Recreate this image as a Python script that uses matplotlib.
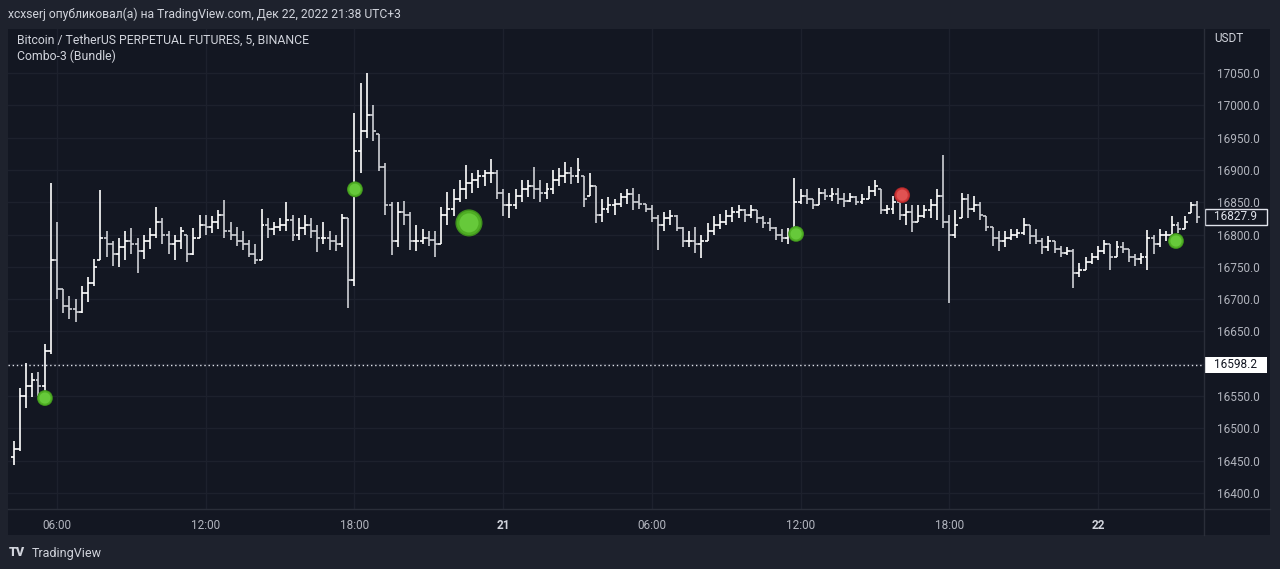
import numpy as np
import matplotlib
matplotlib.use("Agg")
import matplotlib.pyplot as plt
from matplotlib.patches import Rectangle
from matplotlib.lines import Line2D
from matplotlib.transforms import blended_transform_factory

plt.rcParams['font.family'] = ['Roboto', 'DejaVu Sans']

# 15-minute OHLC bars (hours since Dec 20 00:00)
first_time = 4.25
bar_step = 0.25
first_open = 16455

highs = [16480, 16562, 16601, 16585, 16588, 16630, 16880, 16820, 16715, 16705,
         16700, 16720, 16735, 16762, 16869, 16805, 16790, 16795, 16805, 16810,
         16795, 16800, 16810, 16842, 16825, 16805, 16800, 16812, 16800, 16810,
         16830, 16830, 16828, 16838, 16853, 16820, 16812, 16805, 16792, 16785,
         16840, 16825, 16820, 16825, 16850, 16830, 16825, 16830, 16825, 16815,
         16820, 16805, 16800, 16832, 16825, 16988, 17034, 17050, 17000, 16955,
         16910, 16850, 16850, 16852, 16835, 16815, 16808, 16805, 16805, 16843,
         16866, 16870, 16885, 16908, 16895, 16900, 16900, 16917, 16900, 16870,
         16865, 16870, 16885, 16885, 16905, 16885, 16880, 16900, 16903, 16912,
         16905, 16918, 16890, 16895, 16875, 16855, 16858, 16855, 16865, 16870,
         16872, 16862, 16848, 16845, 16830, 16835, 16838, 16830, 16812, 16805,
         16812, 16800, 16818, 16828, 16832, 16838, 16843, 16846, 16840, 16845,
         16838, 16828, 16825, 16812, 16808, 16810, 16887, 16870, 16870, 16855,
         16872, 16870, 16872, 16872, 16865, 16865, 16860, 16862, 16875, 16884,
         16870, 16845, 16860, 16852, 16848, 16845, 16845, 16845, 16855, 16870,
         16923, 16830, 16838, 16865, 16862, 16860, 16850, 16828, 16812, 16805,
         16805, 16808, 16808, 16826, 16815, 16808, 16795, 16798, 16790, 16782,
         16780, 16778, 16756, 16765, 16772, 16782, 16792, 16785, 16790, 16788,
         16778, 16770, 16772, 16807, 16800, 16808, 16805, 16828, 16820, 16828,
         16850, 16852]

lows = [16443, 16465, 16532, 16548, 16550, 16555, 16615, 16700, 16678, 16670,
        16665, 16678, 16695, 16720, 16760, 16765, 16752, 16750, 16760, 16770,
        16740, 16762, 16778, 16795, 16785, 16770, 16760, 16778, 16758, 16768,
        16795, 16800, 16802, 16808, 16795, 16792, 16782, 16776, 16765, 16755,
        16760, 16795, 16800, 16805, 16805, 16790, 16792, 16800, 16795, 16773,
        16785, 16776, 16775, 16780, 16686, 16720, 16895, 16950, 16945, 16898,
        16830, 16768, 16780, 16815, 16776, 16775, 16785, 16782, 16765, 16785,
        16815, 16828, 16850, 16855, 16865, 16872, 16875, 16880, 16855, 16828,
        16825, 16840, 16850, 16858, 16855, 16850, 16855, 16862, 16875, 16880,
        16878, 16880, 16842, 16860, 16818, 16820, 16833, 16830, 16843, 16848,
        16838, 16840, 16835, 16820, 16776, 16805, 16815, 16805, 16780, 16780,
        16772, 16764, 16790, 16800, 16808, 16815, 16820, 16825, 16820, 16825,
        16818, 16810, 16805, 16792, 16788, 16785, 16790, 16848, 16848, 16840,
        16845, 16853, 16852, 16848, 16843, 16850, 16845, 16848, 16855, 16860,
        16832, 16832, 16832, 16822, 16815, 16804, 16820, 16825, 16825, 16822,
        16810, 16694, 16795, 16825, 16825, 16835, 16822, 16805, 16782, 16775,
        16780, 16792, 16795, 16800, 16785, 16785, 16770, 16775, 16772, 16765,
        16768, 16718, 16735, 16745, 16755, 16760, 16770, 16745, 16765, 16772,
        16758, 16752, 16755, 16745, 16770, 16780, 16790, 16800, 16802, 16808,
        16833, 16818]

closes = [16468, 16550, 16565, 16575, 16565, 16620, 16760, 16715, 16690, 16685,
          16680, 16710, 16725, 16750, 16795, 16785, 16770, 16780, 16790, 16785,
          16775, 16790, 16800, 16820, 16800, 16785, 16790, 16805, 16770, 16795,
          16815, 16812, 16820, 16830, 16805, 16800, 16790, 16785, 16770, 16760,
          16815, 16808, 16812, 16815, 16822, 16800, 16810, 16815, 16805, 16795,
          16795, 16790, 16785, 16825, 16730, 16930, 16960, 16985, 16960, 16905,
          16845, 16790, 16835, 16830, 16790, 16790, 16795, 16792, 16785, 16830,
          16840, 16855, 16870, 16880, 16885, 16890, 16895, 16895, 16865, 16845,
          16845, 16860, 16870, 16875, 16870, 16865, 16870, 16885, 16890, 16895,
          16890, 16900, 16855, 16875, 16830, 16840, 16845, 16848, 16858, 16862,
          16850, 16848, 16840, 16825, 16815, 16825, 16828, 16810, 16790, 16790,
          16785, 16790, 16805, 16815, 16820, 16828, 16835, 16838, 16830, 16838,
          16825, 16818, 16810, 16800, 16795, 16800, 16850, 16860, 16855, 16845,
          16865, 16860, 16862, 16855, 16852, 16858, 16850, 16855, 16868, 16875,
          16838, 16840, 16850, 16830, 16835, 16820, 16828, 16838, 16845, 16860,
          16820, 16800, 16815, 16855, 16840, 16845, 16830, 16812, 16795, 16790,
          16795, 16800, 16802, 16815, 16798, 16790, 16780, 16790, 16778, 16772,
          16775, 16740, 16745, 16758, 16765, 16775, 16785, 16765, 16780, 16778,
          16765, 16762, 16765, 16795, 16785, 16800, 16800, 16815, 16808, 16820,
          16845, 16827.9]

# indicator signals
buy_times = [5.51, 18.02, 22.62, 35.82, 51.15]
buy_prices = [16547, 16870, 16818, 16801, 16790]
sell_times = [40.10]
sell_prices = [16861]

ref_price = 16598.2
last_price = 16827.9

tick_hours = [6, 12, 18, 24, 30, 36, 42, 48]
tick_labels = ['06:00', '12:00', '18:00', '21', '06:00', '12:00', '18:00', '22']
price_ticks = [16400, 16450, 16500, 16550, 16600, 16650, 16700, 16750,
               16800, 16850, 16900, 16950, 17000, 17050]

W, H = 1280, 569
BG = '#1e222d'
PANEL = '#131722'
TXT = '#b2b5be'
SEP = '#2a2e39'


def fx(px):
    return px / W


def fy(py):
    return 1 - py / H


fig = plt.figure(figsize=(12.8, 5.69), dpi=100, facecolor=BG)
fig.patches.append(Rectangle((fx(8), fy(535)), fx(1270) - fx(8), fy(29) - fy(535),
                             transform=fig.transFigure, facecolor=PANEL,
                             edgecolor='none', zorder=-5))

ax = fig.add_axes([fx(8), fy(509), fx(1204) - fx(8), fy(29) - fy(509)])
ax.set_facecolor(PANEL)
for s in ax.spines.values():
    s.set_visible(False)

t = first_time + bar_step * np.arange(len(closes))
h = np.array(highs, float)
l = np.array(lows, float)
c = np.array(closes, float)
o = np.clip(np.r_[first_open, c[:-1]], l, h)
cols = np.where(c >= o, '#ffffff', '#cfd1d6')

tw = 0.12
ax.vlines(t, l, h, colors=cols, lw=1.2, zorder=3)
ax.hlines(o, t - tw, t, colors=cols, lw=1.2, zorder=3)
ax.hlines(c, t, t + tw, colors=cols, lw=1.2, zorder=3)

ax.axhline(ref_price, color='#e0e3eb', lw=1, ls=(0, (1, 2)), zorder=2)

# glossy signal dots
buy_sizes = [130, 130, 380, 130, 130]
layers = [(1.0, '#3d8f1c', '#a8262a'), (0.8, '#4fae24', '#cc3434'),
          (0.5, '#66c93a', '#e05252')]
for scale, gcol, rcol in layers:
    ax.scatter(buy_times, buy_prices, s=[v * scale for v in buy_sizes],
               color=gcol, edgecolors='none', zorder=5)
    ax.scatter(sell_times, sell_prices, s=130 * scale,
               color=rcol, edgecolors='none', zorder=5)

ax.set_xlim(4.02, 52.28)
ax.set_ylim(16375.3, 17118.1)

ax.set_xticks(tick_hours)
ax.set_xticklabels(tick_labels)
ax.tick_params(axis='x', length=0, pad=7, labelsize=8.5, labelcolor=TXT)
for lab in ax.get_xticklabels():
    if ':' not in lab.get_text():
        lab.set_fontweight('bold')
        lab.set_color('#d1d4dc')

ax.yaxis.tick_right()
ax.set_yticks(price_ticks)
ax.set_yticklabels([f'{p:.1f}' for p in price_ticks])
ax.tick_params(axis='y', length=0, pad=9, labelsize=8.5, labelcolor=TXT)

ax.grid(color='#1d212d', lw=1)
ax.set_axisbelow(True)

# price labels on the scale
trans = blended_transform_factory(ax.transAxes, ax.transData)
bw = 62 / 1196
bh = 8 * 1.5475
ax.add_patch(Rectangle((1.0008, ref_price - bh), bw, 2 * bh, transform=trans,
                       facecolor='white', edgecolor='none', clip_on=False, zorder=6))
ax.text(1.0008 + bw / 2, ref_price, f'{ref_price:.1f}', transform=trans,
        ha='center', va='center', fontsize=8.5, color='#131722', zorder=7)
ax.add_patch(Rectangle((1.0008, last_price - bh), bw, 2 * bh, transform=trans,
                       facecolor=PANEL, edgecolor='#e0e3eb', lw=1, clip_on=False,
                       zorder=6))
ax.text(1.0008 + bw / 2, last_price, f'{last_price:.1f}', transform=trans,
        ha='center', va='center', fontsize=8.5, color='#e0e3eb', zorder=7)

# separators
fig.add_artist(Line2D([fx(1204), fx(1204)], [fy(29), fy(535)], color=SEP, lw=1))
fig.add_artist(Line2D([fx(8), fx(1270)], [fy(509), fy(509)], color=SEP, lw=1))

fig.text(fx(1214), fy(39), 'USDT', fontsize=8.5, color='#d1d4dc', va='center')
fig.text(fx(8), fy(14), 'xcxserj опубликовал(а) на TradingView.com, Дек 22, 2022 21:38 UTC+3',
         fontsize=8.7, color='#d1d4dc', va='center')
fig.text(fx(17), fy(40), 'Bitcoin / TetherUS PERPETUAL FUTURES, 5, BINANCE',
         fontsize=8.8, color='#d1d4dc', va='center')
fig.text(fx(17), fy(56), 'Combo-3 (Bundle)', fontsize=8.8, color='#d1d4dc', va='center')

fig.text(fx(9), fy(553), 'TV', fontsize=9, fontweight='black', color='#d1d4dc',
         va='center')
fig.text(fx(32), fy(553), 'TradingView', fontsize=9, color='#d1d4dc', va='center')

fig.savefig('out.png', dpi=100, facecolor=BG)
